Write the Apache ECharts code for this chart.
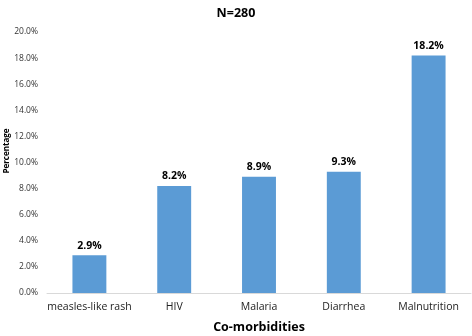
<!DOCTYPE html>
<html><head><meta charset="utf-8">
<script src="https://cdn.jsdelivr.net/npm/echarts@6/dist/echarts.min.js"></script>
<style>html,body{margin:0;padding:0;background:#fff}#c{width:472px;height:336px}</style>
</head><body><div id="c"></div>
<script>
const categories = ['measles-like rash', 'HIV', 'Malaria', 'Diarrhea', 'Malnutrition'];
const values = [2.9, 8.2, 8.9, 9.3, 18.2];
const chart = echarts.init(document.getElementById('c'));
chart.setOption({
  animation: false,
  title: { text: 'N=280', left: 'center', top: 2, textStyle: { fontFamily: 'Open Sans', fontWeight: 'bold', fontSize: 12.5, color: '#000' } },
  grid: { left: 47, right: 1, top: 32, bottom: 43, containLabel: false, outerBoundsMode: 'none' },
  graphic: [{
    type: 'text', x: 7, y: 151, rotation: Math.PI / 2,
    style: { text: 'Percentage', fontFamily: 'Open Sans', fontWeight: 'bold', fontSize: 8, fill: '#000', align: 'center', verticalAlign: 'middle' }
  }],
  xAxis: {
    type: 'category', data: categories,
    name: 'Co-morbidities', nameLocation: 'middle', nameGap: 28,
    nameTextStyle: { fontFamily: 'Open Sans', fontWeight: 'bold', fontSize: 12.5, color: '#000' },
    axisLine: { lineStyle: { color: '#d9d9d9' } }, axisTick: { show: false },
    axisLabel: { interval: 0, fontFamily: 'Open Sans', fontSize: 10.5, color: '#222', margin: 9 }
  },
  yAxis: {
    type: 'value', min: 0, max: 20, interval: 2,
    splitLine: { show: false }, axisLine: { show: false }, axisTick: { show: false },
    axisLabel: { fontFamily: 'Open Sans', fontSize: 8.5, color: '#333', margin: 9, formatter: v => v.toFixed(1) + '%' }
  },
  series: [{
    type: 'bar', data: values, barWidth: '40%',
    itemStyle: { color: '#5b9bd5' },
    label: { show: true, position: 'top', distance: 4, fontFamily: 'Open Sans', fontWeight: 'bold', fontSize: 10.5, color: '#000', formatter: p => p.value.toFixed(1) + '%' }
  }]
});
</script></body></html>
